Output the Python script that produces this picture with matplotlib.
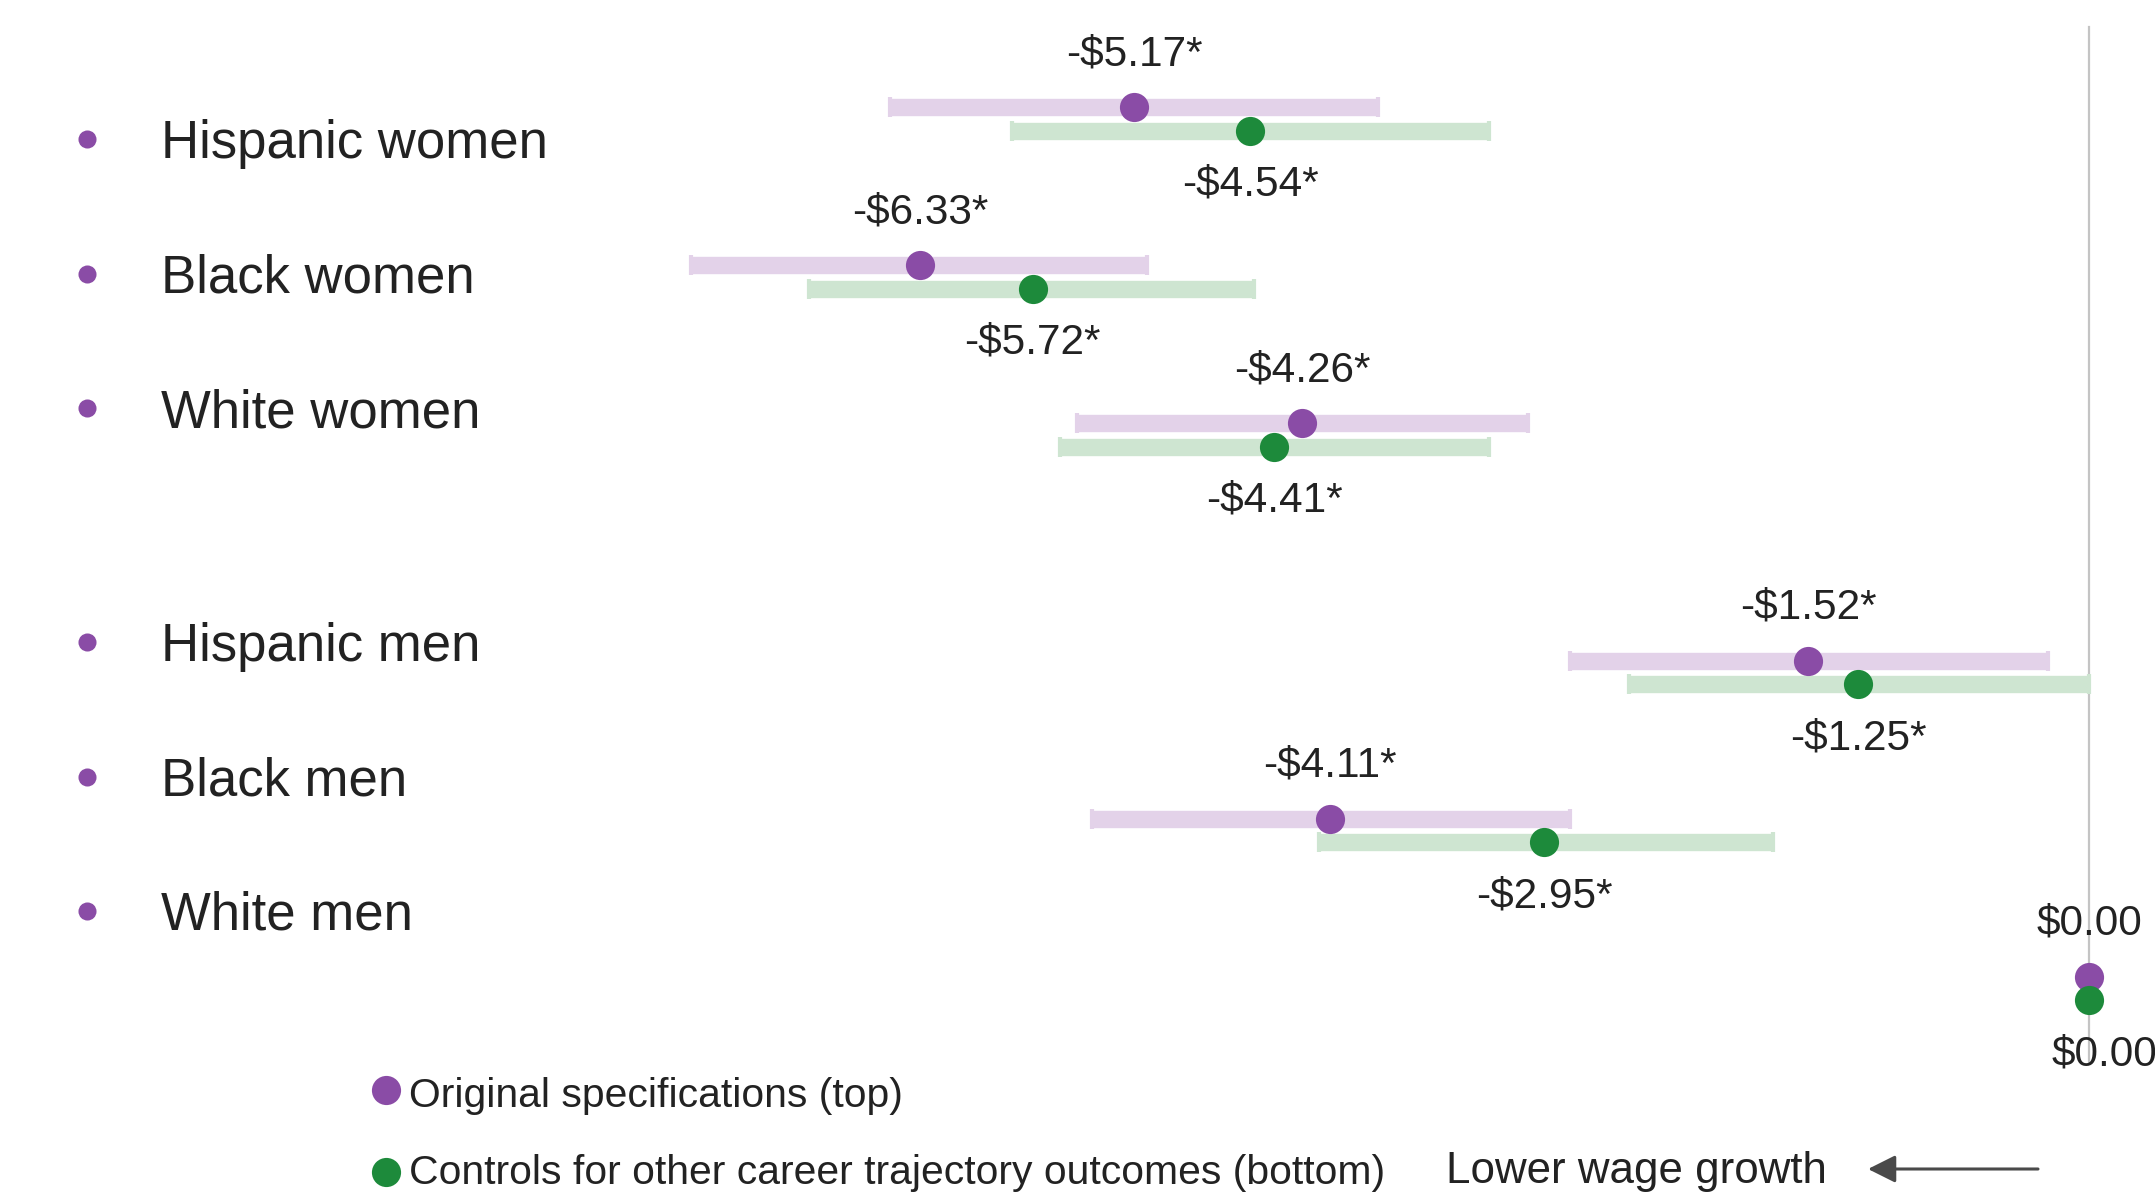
import numpy as np
import matplotlib
matplotlib.use("Agg")
import matplotlib.pyplot as plt

plt.rcParams['font.family'] = ['Liberation Sans', 'DejaVu Sans']

groups = ["Hispanic women", "Black women", "White women",
          "Hispanic men", "Black men", "White men"]
rows = [0, 1, 2, 3.5, 4.5, 5.5]   # blank slot between the women and men blocks

# original specification: estimate and interval ends (dollars)
orig = [-5.17, -6.33, -4.26, -1.52, -4.11, 0.00]
orig_lo = [-6.49, -7.57, -5.48, -2.81, -5.40, np.nan]
orig_hi = [-3.85, -5.10, -3.04, -0.22, -2.81, np.nan]
orig_sig = [True, True, True, True, True, False]

# with controls for other career trajectory outcomes
ctrl = [-4.54, -5.72, -4.41, -1.25, -2.95, 0.00]
ctrl_lo = [-5.83, -6.93, -5.57, -2.49, -4.17, np.nan]
ctrl_hi = [-3.25, -4.52, -3.25, 0.00, -1.71, np.nan]
ctrl_sig = [True, True, True, True, True, False]

legend_labels = ["Original specifications (top)",
                 "Controls for other career trajectory outcomes (bottom)"]

PURPLE = '#8a4ca6'
PURPLE_LT = '#e3d2e9'
GREEN = '#1d8a3b'
GREEN_LT = '#cee5d1'
INK = '#222222'

W, H = 2155, 1194


def fx(px):
    return px / W


def fy(px):
    return 1 - px / H


def money(v, sig):
    s = "$%.2f" % abs(v)
    if v < 0:
        s = "-" + s
    if sig:
        s += "*"
    return s


fig = plt.figure(figsize=(W / 100, H / 100), dpi=100)
ax = fig.add_axes([0, 0, 1, 1])
ax.axis('off')
ax.set_xlim(-11.31, 0.357)
ax.set_ylim(6.80, -0.752)

# zero reference line
ax.axvline(0, ymin=fy(1063), ymax=fy(27), color='#c4c4c4', lw=1.6, zorder=0)

y = np.array(rows, dtype=float)
series = [
    (orig, orig_lo, orig_hi, orig_sig, PURPLE, PURPLE_LT, -0.074, 38),
    (ctrl, ctrl_lo, ctrl_hi, ctrl_sig, GREEN, GREEN_LT, 0.074, -39),
]
for vals, lo, hi, sig, dark, light, off, dy in series:
    vals = np.array(vals)
    lo = np.array(lo)
    hi = np.array(hi)
    yy = y + off
    m = ~np.isnan(lo)
    ax.errorbar(vals[m], yy[m], xerr=[vals[m] - lo[m], hi[m] - vals[m]],
                fmt='none', ecolor=light, elinewidth=12.5,
                capsize=7.5, capthick=3, zorder=1)
    ax.plot(vals, yy, 'o', ms=21, color=dark, mec='none', zorder=3)
    for v, yv, s in zip(vals, yy, sig):
        dx = 11 if (v == 0 and dy < 0) else 0
        ax.annotate(money(v, s), (v, yv), xytext=(dx, dy),
                    textcoords='offset points', ha='center', va='center',
                    fontsize=30.5, color=INK)

# group names with bullets, set as a separate list on the left
label_base = [158, 293, 427, 661, 796, 930]
for name, b in zip(groups, label_base):
    ax.plot(fx(87), fy(b - 19), 'o', ms=13, color=PURPLE, mec='none',
            transform=ax.transAxes, clip_on=False)
    ax.text(fx(161), fy(b), name, transform=ax.transAxes, ha='left',
            va='baseline', fontsize=38, color=INK)

# legend
for lab, c, yc, base in zip(legend_labels, [PURPLE, GREEN], [1090, 1172], [1107, 1184]):
    ax.plot(fx(386), fy(yc), 'o', ms=21, color=c, mec='none',
            transform=ax.transAxes, clip_on=False)
    ax.text(fx(409), fy(base), lab, transform=ax.transAxes, ha='left',
            va='baseline', fontsize=29.4, color=INK)

# direction note
ax.text(fx(1446), fy(1183), "Lower wage growth", transform=ax.transAxes,
        ha='left', va='baseline', fontsize=31.6, color=INK)
ax.annotate('', xy=(fx(1868), fy(1169)), xytext=(fx(2038), fy(1169)),
            xycoords='axes fraction', textcoords='axes fraction',
            arrowprops=dict(arrowstyle='-|>', color='#4a4a4a', lw=2.2,
                            mutation_scale=42, shrinkA=0, shrinkB=0))

fig.savefig('out.png', dpi=100, facecolor='white')
